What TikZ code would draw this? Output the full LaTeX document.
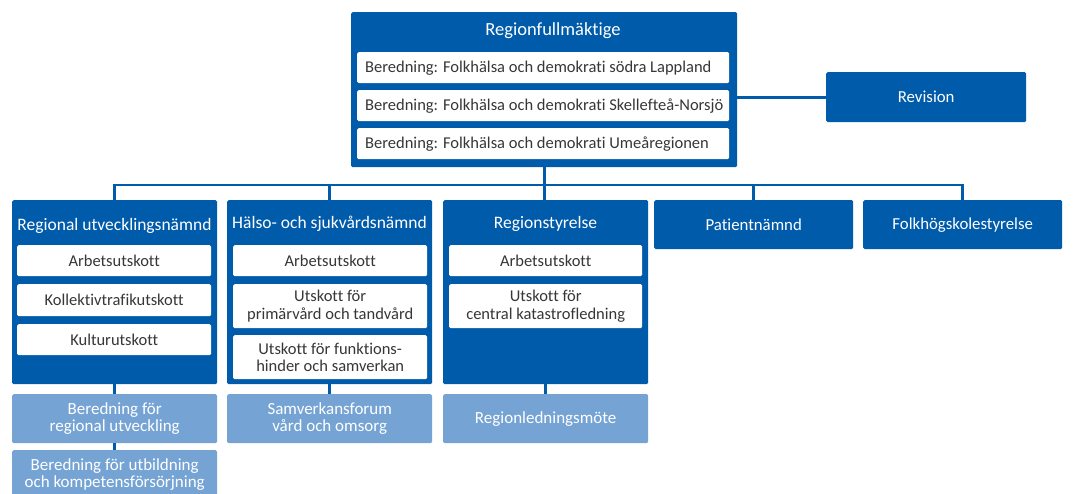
\documentclass[tikz,border=0pt]{standalone}
\usepackage{fontspec}
\setmainfont[Ligatures=NoCommon]{Carlito}
\definecolor{dblue}{RGB}{0,91,170}
\definecolor{lblue}{RGB}{116,163,212}
\definecolor{txtgray}{RGB}{55,55,55}
\tikzset{
  dark/.style={draw=none, fill=dblue, rounded corners=1.5pt, inner sep=0pt, anchor=north west},
  light/.style={draw=none, fill=lblue, rounded corners=1.5pt, inner sep=0pt, anchor=north west, text=white, align=center, font=\fontsize{17}{17.5}\selectfont},
  row/.style={draw=none, fill=white, rounded corners=1.5pt, inner sep=0pt, anchor=north west, text=txtgray, align=center, font=\fontsize{16.5}{17.5}\selectfont},
  leftrow/.style={row, inner xsep=8pt, text width=356pt, align=flush left, minimum height=31pt},
  ttl/.style={text=white, inner sep=0pt, font=\fontsize{17.5}{19}\selectfont},
  single/.style={dark, text=white, font=\fontsize{16.8}{19}\selectfont},
  conn/.style={draw=dblue, line width=2.6pt},
}
\begin{document}
\begin{tikzpicture}[x=1pt, y=-1pt]
\useasboundingbox (0,0) rectangle (1077,493);
\clip (0,0) rectangle (1077,493);
% top
\node[dark, minimum width=386pt, minimum height=155pt] (rf) at (351,12) {};
\node[ttl, font=\fontsize{18.5}{20}\selectfont] (rft) at (553,31) {Regionfullmäktige};
\node[leftrow] (rf1) at (357,52) {\mbox{Beredning: Folkhälsa och demokrati södra Lappland}};
\node[leftrow] (rf2) at (357,90) {\mbox{Beredning: Folkhälsa och demokrati Skellefteå-Norsjö}};
\node[leftrow] (rf3) at (357,128) {\mbox{Beredning: Folkhälsa och demokrati Umeåregionen}};
\node[single, minimum width=200pt, minimum height=50pt] (rev) at (826,72) {Revision};
% second level
\node[dark, minimum width=205pt, minimum height=184pt] (ru) at (12,200) {};
\node[ttl] (rut) at (114.5,226) {Regional utvecklingsnämnd};
\node[row, minimum width=194pt, minimum height=31pt] (ru1) at (17,245) {Arbetsutskott};
\node[row, minimum width=194pt, minimum height=32pt] (ru2) at (17,284) {Kollektivtrafikutskott};
\node[row, minimum width=194pt, minimum height=31pt] (ru3) at (17,324) {Kulturutskott};

\node[dark, minimum width=205pt, minimum height=184pt] (hs) at (227,200) {};
\node[ttl] (hst) at (329.5,224) {Hälso- och sjukvårdsnämnd};
\node[row, minimum width=194pt, minimum height=31pt] (hs1) at (233,245) {Arbetsutskott};
\node[row, minimum width=194pt, minimum height=44pt] (hs2) at (233,284) {Utskott för\\primärvård och tandvård};
\node[row, minimum width=194pt, minimum height=44pt] (hs3) at (233,335) {Utskott för funktions-\\hinder och samverkan};

\node[dark, minimum width=205pt, minimum height=184pt] (rs) at (443,200) {};
\node[ttl] (rst) at (545.5,224) {Regionstyrelse};
\node[row, minimum width=193pt, minimum height=31pt] (rs1) at (449,245) {Arbetsutskott};
\node[row, minimum width=193pt, minimum height=44pt] (rs2) at (449,284) {Utskott för\\central katastrofledning};

\node[single, minimum width=199pt, minimum height=49pt] (pn) at (654,200) {Patientnämnd};
\node[single, minimum width=199pt, minimum height=49pt] (fs) at (863,200) {Folkhögskolestyrelse};
% light boxes
\node[light, minimum width=205pt, minimum height=49pt] (b1) at (12,394) {Beredning för\\regional utveckling};
\node[light, minimum width=205pt, minimum height=49pt] (b2) at (12,450) {Beredning för utbildning\\och kompetensförsörjning};
\node[light, minimum width=205pt, minimum height=49pt] (sam) at (227,394) {Samverkansforum\\vård och omsorg};
\node[light, minimum width=205pt, minimum height=49pt] (rlm) at (443,394) {Regionledningsmöte};
% connectors
\coordinate (bar) at (545,185);
\draw[conn] (rf.south) -- (rf.south |- rs.north);
\draw[conn] (ru.north) |- (bar) -| (fs.north);
\draw[conn] (hs.north) -- (hs.north |- bar);
\draw[conn] (pn.north) -- (pn.north |- bar);
\draw[conn] (rev.west) -- (rev.west -| rf.east);
\draw[conn] (ru.south) -- (b1.north);
\draw[conn] (b1.south) -- (b2.north);
\draw[conn] (hs.south) -- (sam.north);
\draw[conn] (rs.south) -- (rlm.north);
\end{tikzpicture}
\end{document}
